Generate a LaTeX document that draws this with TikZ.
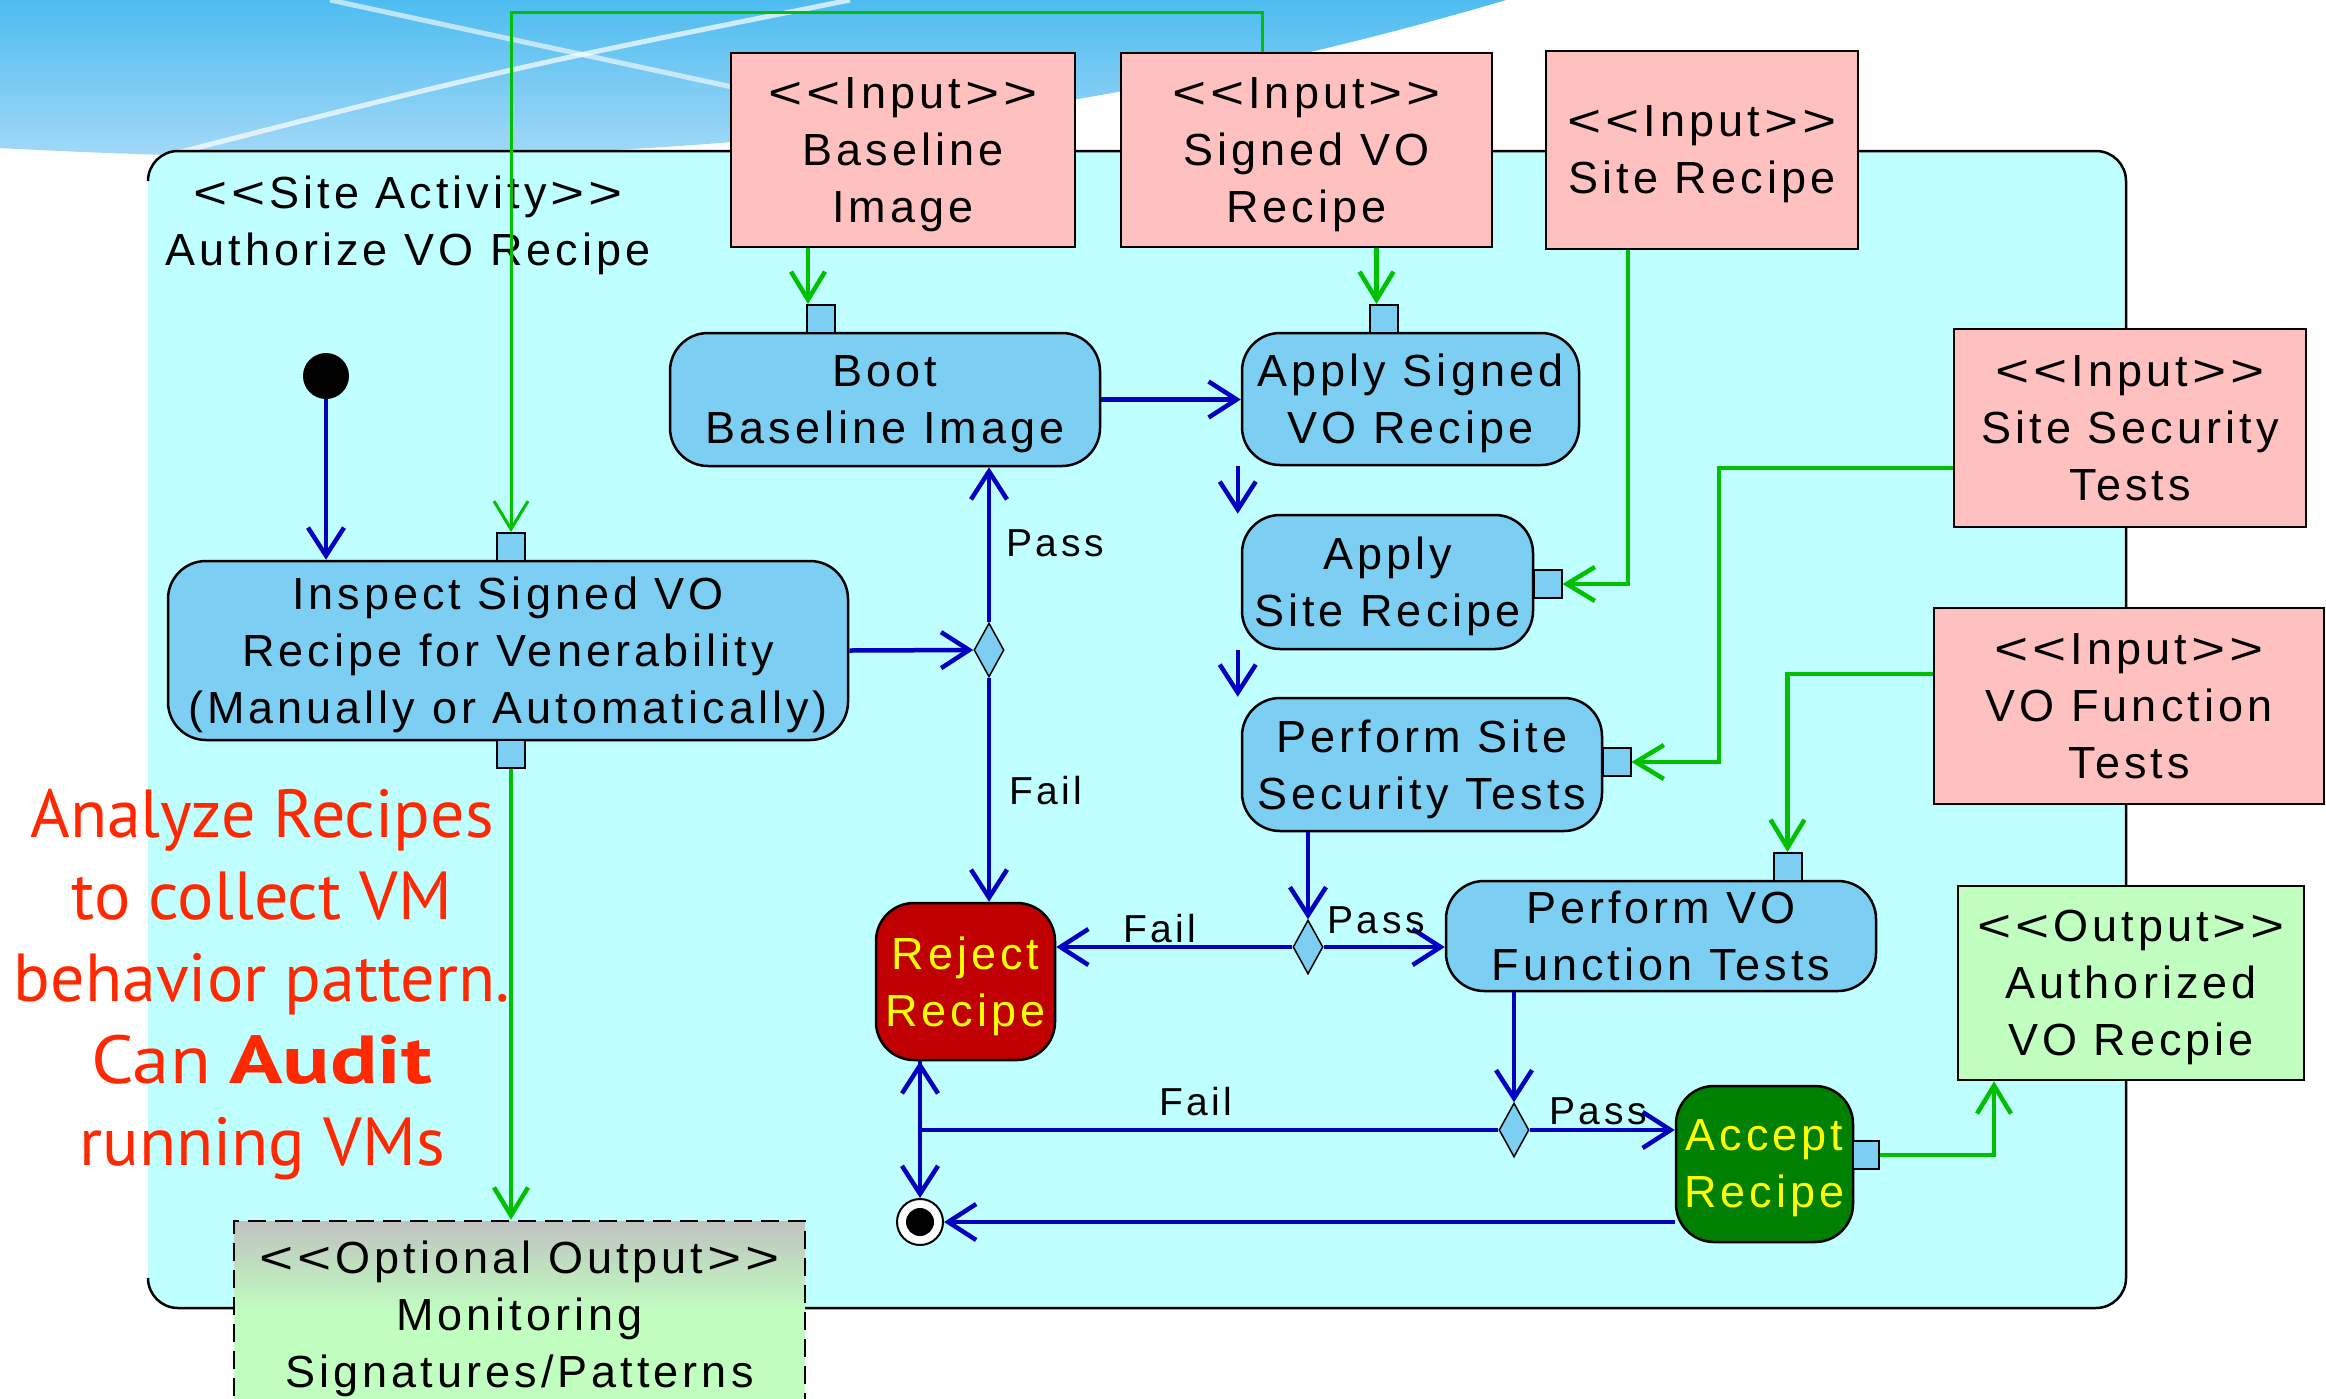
\documentclass[tikz,border=0pt]{standalone}
\usepackage{fontspec}
\usepackage{graphicx}
\setmainfont{Liberation Sans}
\newfontfamily\umlf[LetterSpace=9]{Liberation Sans}
\newfontfamily\notef{PT Sans}
\usetikzlibrary{arrows.meta,shapes.geometric}
\newcommand\lA{\scalebox{1.3}[1]{<}\kern4pt\scalebox{1.3}[1]{<}\kern4pt}
\newcommand\rA{\kern4pt\scalebox{1.3}[1]{>}\kern4pt\scalebox{1.3}[1]{>}}
\definecolor{frameC}{RGB}{191,255,255}
\definecolor{actC}{RGB}{124,206,242}
\definecolor{inC}{RGB}{255,192,192}
\definecolor{outC}{RGB}{192,255,192}
\definecolor{greyC}{RGB}{192,194,192}
\definecolor{flowC}{RGB}{0,0,192}
\definecolor{objC}{RGB}{0,192,0}
\definecolor{rejC}{RGB}{192,0,0}
\definecolor{accC}{RGB}{0,128,0}
\definecolor{noteC}{RGB}{255,40,0}
\definecolor{hiC}{RGB}{255,255,0}
\definecolor{bgTop}{RGB}{78,188,240}
\definecolor{bgBot}{RGB}{172,220,248}
\pgfdeclareverticalshading{monsh}{100bp}{color(0bp)=(outC); color(50bp)=(outC); color(75bp)=(greyC); color(100bp)=(greyC)}
\begin{document}
\begin{tikzpicture}[x=1pt,y=-1pt,
  uml/.style={font=\umlf\fontsize{45}{57}\selectfont, align=center, inner sep=0pt, text depth=0pt},
  act/.style={uml, draw=black, line width=2.5pt, fill=actC, rounded corners=38pt},
  inbox/.style={uml, draw=black, line width=2.5pt, fill=inC},
  outbox/.style={uml, draw=black, line width=2.5pt, fill=outC},
  pin/.style={draw=black, line width=2pt, fill=actC, minimum width=28pt, minimum height=28pt, inner sep=0pt},
  dec/.style={diamond, draw=black, line width=1.5pt, fill=actC, minimum width=30pt, minimum height=54pt, inner sep=0pt},
  lbl/.style={font=\umlf\fontsize{39}{45}\selectfont, inner sep=0pt},
  flow/.style={draw=flowC, line width=4.5pt, -{Straight Barb[length=28pt,width=36pt]}},
  obj/.style={draw=objC, line width=4.5pt, -{Straight Barb[length=28pt,width=34pt]}}
]
\useasboundingbox (0,0) rectangle (2326,1398);
\fill[white] (0,0) rectangle (2326,1398);
% background swoosh
\shade[top color=bgTop, bottom color=bgBot] (0,0) -- (1506,0) .. controls (1000,150) and (500,175) .. (0,148) -- cycle;
\draw[white, line width=5pt, opacity=0.7] (110,170) .. controls (500,70) .. (850,0);
\draw[white, line width=5pt, opacity=0.6] (330,0) -- (760,93);
% activity frame
\fill[frameC, rounded corners=30pt] (148,151) rectangle (2126,1308);
\draw[line width=2.5pt, rounded corners=30pt] (148,1282) -- (148,1308) -- (2126,1308) -- (2126,151) -- (148,151) -- (148,178);
\node[uml] (title) at (408,221) {\lA Site Activity\rA\\Authorize VO Recipe};
% red note
\node[font=\notef\fontsize{68}{82}\selectfont, text=noteC, align=center, inner sep=0pt] (note) at (262,985)
  {Analyze Recipes\\to collect VM\\behavior pattern.\\\scalebox{1.1}[1]{Can} \scalebox{1.3}[1]{\textbf{Audit}}\\running VMs};
% input / output objects
\node[inbox, minimum width=344pt, minimum height=194pt] (inBase) at (903,150) {\lA Input\rA\\Baseline\\Image};
\node[inbox, minimum width=371pt, minimum height=194pt] (inSVO) at (1306.5,150) {\lA Input\rA\\Signed VO\\Recipe};
\node[inbox, minimum width=312pt, minimum height=198pt] (inSite) at (1702,150) {\lA Input\rA\\Site Recipe};
\node[inbox, minimum width=352pt, minimum height=198pt] (inSec) at (2130,428) {\lA Input\rA\\Site Security\\Tests};
\node[inbox, minimum width=390pt, minimum height=196pt] (inVOF) at (2129,706) {\lA Input\rA\\VO Function\\Tests};
\node[outbox, minimum width=346pt, minimum height=194pt] (outAuth) at (2131,983) {\lA Output\rA\\Authorized\\VO Recpie};
\node[uml, draw=black, line width=2.5pt, dash pattern=on 18pt off 9pt,
  path picture={\shade[shading=monsh] (path picture bounding box.north west) rectangle (path picture bounding box.south east);},
  minimum width=571pt, minimum height=186pt] (outMon) at (519.5,1314) {\lA Optional Output\rA\\Monitoring\\Signatures/Patterns};
% actions
\node[act, minimum width=680pt, minimum height=179pt] (E) at (508,650.5) {Inspect Signed VO\\Recipe for Venerability\\(Manually or Automatically)};
\node[act, minimum width=430pt, minimum height=133pt] (A) at (885,399.5) {Boot\\Baseline Image};
\node[act, minimum width=337pt, minimum height=132pt] (B) at (1410.5,399) {Apply Signed\\VO Recipe};
\node[act, minimum width=291pt, minimum height=134pt] (C) at (1387.5,582) {Apply\\Site Recipe};
\node[act, minimum width=360pt, minimum height=133pt] (D) at (1422,764.5) {Perform Site\\Security Tests};
\node[act, minimum width=430pt, minimum height=110pt] (F) at (1661,936) {Perform VO\\Function Tests};
\node[act, fill=rejC, text=hiC, minimum width=179pt, minimum height=157pt] (G) at (965.5,981.5) {Reject\\Recipe};
\node[act, fill=accC, text=hiC, minimum width=177pt, minimum height=156pt] (H) at (1764.5,1164) {Accept\\Recipe};
% pins
\node[pin] (pA) at (821,319) {};
\node[pin] (pB) at (1383.5,319) {};
\node[pin] (pC) at (1547.5,584) {};
\node[pin] (pD) at (1616.5,762) {};
\node[pin] (pEt) at (511,547) {};
\node[pin] (pEb) at (511,754) {};
\node[pin] (pF) at (1787.5,867) {};
\node[pin, minimum width=26pt] (pH) at (1866,1155) {};
% initial / final / decisions
\node[circle, fill=black, minimum size=46pt, inner sep=0pt] (init) at (326,376) {};
\node[circle, draw=black, line width=2pt, fill=white, minimum size=46pt, inner sep=0pt] (fin) at (920,1222) {};
\node[circle, fill=black, minimum size=28pt, inner sep=0pt] (finDot) at (fin) {};
\node[dec] (d1) at (989,650) {};
\node[dec] (d2) at (1308,947) {};
\node[dec] (d3) at (1514,1130) {};
% control flows
\draw[flow] (init.south) -- (init |- E.north);
\draw[flow] (E.east) -- (d1.west);
\draw[flow] (d1.north) -- (d1.north |- A.south);
\draw[flow] (d1.south) -- (d1.south |- G.north);
\draw[flow] (A.east) -- (A.east -| B.west);
\draw[flow] ([xshift=-3pt]B.south west) -- ([xshift=-3pt]C.north west);
\draw[flow] ([xshift=-3pt]C.south west) -- ([xshift=-3pt]D.north west);
\draw[flow] (d2.north |- D.south) -- (d2.north);
\draw[flow] (d2.west) -- (d2.west -| G.east);
\draw[flow] (d2.east) -- (d2.east -| F.west);
\draw[flow] (d3.north |- F.south) -- (d3.north);
\draw[flow] (d3.west) -- (d3.west -| fin) -- (fin |- G.south);
\draw[flow] (fin |- G.south) -- (fin.north);
\draw[flow] (d3.east) -- (d3.east -| H.west);
\draw[flow] (H.west |- fin) -- (fin.east);
% labels
\node[lbl] (lp1) at (1055,543) {Pass};
\node[lbl] (lf1) at (1046,791) {Fail};
\node[lbl] (lf2) at (1160,929) {Fail};
\node[lbl] (lp2) at (1376,920) {Pass};
\node[lbl] (lf3) at (1196,1102) {Fail};
\node[lbl] (lp3) at (1598,1111) {Pass};
% object flows
\coordinate (g1) at (1262,12);
\draw[obj, line width=3pt] (g1 |- inSVO.north) -- (g1) -- (pEt.north |- g1) -- (pEt.north);
\coordinate (pa) at ([xshift=-13pt]pA.north);
\draw[obj] (pa |- inBase.south) -- (pa);
\coordinate (pb) at ([xshift=-7pt]pB.north);
\draw[obj] (pb |- inSVO.south) -- (pb);
\coordinate (g3) at (1628,584);
\draw[obj] (inSite.south -| g3) -- (g3) -- (pC.east);
\coordinate (g4) at (1719,468);
\draw[obj] (inSec.west |- g4) -- (g4) -- (g4 |- pD.east) -- (pD.east);
\coordinate (g5) at (1788,674);
\draw[obj] (inVOF.west |- g5) -- (pF.north |- g5) -- (pF.north);
\coordinate (g6) at (1994,1155);
\draw[obj] (pH.east) -- (pH.east -| g6) -- (g6 |- outAuth.south);
\draw[obj] (pEb.south) -- (pEb.south |- outMon.north);
\end{tikzpicture}
\end{document}
